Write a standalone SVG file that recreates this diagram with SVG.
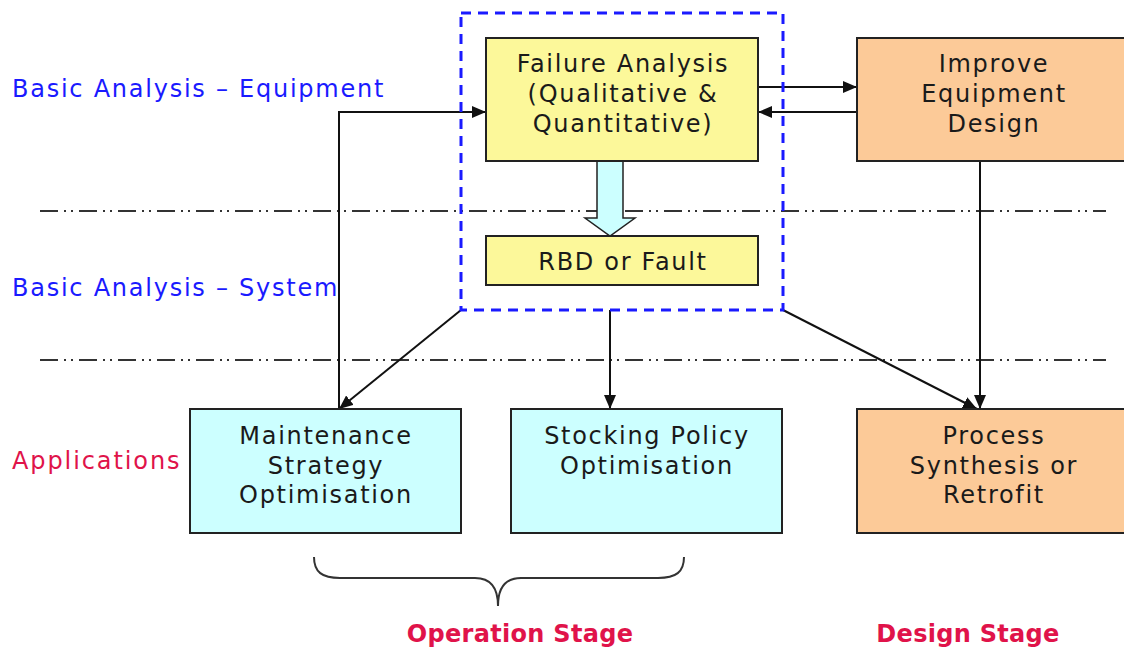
<svg xmlns="http://www.w3.org/2000/svg" width="1124" height="650" viewBox="0 0 1124 650">
  <defs>
    <marker id="arr" viewBox="0 0 14 12" refX="14" refY="6" markerWidth="14" markerHeight="12" markerUnits="userSpaceOnUse" orient="auto">
      <path d="M0,0 L14,6 L0,12 Z" fill="#111"/>
    </marker>
    <style>
      .box { stroke: #222; stroke-width: 2; }
      .yellow { fill: #fcf89a; }
      .peach { fill: #fcca98; }
      .cyan { fill: #ccffff; }
      .ntext { font-family: "DejaVu Sans", "Liberation Sans", sans-serif; font-size: 24px; letter-spacing: 1.7px; fill: #1a1a1a; text-anchor: middle; }
      .lane { font-family: "DejaVu Sans", "Liberation Sans", sans-serif; font-size: 24px; letter-spacing: 1.75px; fill: #1a1aff; }
      .red { font-family: "DejaVu Sans", "Liberation Sans", sans-serif; font-size: 24px; letter-spacing: 1.9px; fill: #e0134a; }
      .stage { font-weight: bold; text-anchor: middle; letter-spacing: 0.3px; }
      .sep { stroke: #333; stroke-width: 2; fill: none; stroke-dasharray: 18 6 2 5 2 6; }
      .conn { stroke: #111; stroke-width: 2; fill: none; marker-end: url(#arr); }
    </style>
  </defs>
  <rect width="1124" height="650" fill="#fff"/>

  <!-- lane separators -->
  <g id="separators">
    <line class="sep" x1="40" y1="211" x2="1106" y2="211"/>
    <line class="sep" x1="40" y1="360" x2="1106" y2="360"/>
  </g>

  <!-- lane labels -->
  <g id="lane-labels">
    <text class="lane" x="12" y="97">Basic Analysis – Equipment</text>
    <text class="lane" x="12" y="296">Basic Analysis – System</text>
    <text class="red" x="12" y="469">Applications</text>
  </g>

  <!-- connectors -->
  <g id="connectors">
    <polyline class="conn" points="339,409 339,112 486,112"/>
    <line class="conn" x1="758" y1="87" x2="857" y2="87"/>
    <line class="conn" x1="857" y1="112" x2="758" y2="112"/>
    <line class="conn" x1="461" y1="310" x2="339" y2="409"/>
    <line class="conn" x1="610" y1="310" x2="610" y2="409"/>
    <line class="conn" x1="783" y1="310" x2="977" y2="409"/>
    <line class="conn" x1="980" y1="161" x2="980" y2="409"/>
    <!-- block arrow from failure analysis to RBD -->
    <path d="M597,161 L597,218 L585,218 L610,236 L635,218 L623,218 L623,161 Z" fill="#ccffff" stroke="#222" stroke-width="1.5"/>
  </g>

  <!-- dashed grouping around the basic analysis boxes -->
  <rect id="analysis-group" x="461" y="13" width="322" height="297" fill="none" stroke="#1a1aff" stroke-width="3" stroke-dasharray="10 7"/>

  <g id="failure-analysis">
    <rect class="box yellow" x="486" y="38" width="272" height="123"/>
    <text class="ntext" x="623" y="72">Failure Analysis</text>
    <text class="ntext" x="623" y="102">(Qualitative &amp;</text>
    <text class="ntext" x="623" y="132">Quantitative)</text>
  </g>

  <g id="rbd">
    <rect class="box yellow" x="486" y="236" width="272" height="49"/>
    <text class="ntext" x="623" y="270">RBD or Fault</text>
  </g>

  <g id="improve-design">
    <rect class="box peach" x="857" y="38" width="275" height="123"/>
    <text class="ntext" x="994" y="72">Improve</text>
    <text class="ntext" x="994" y="102">Equipment</text>
    <text class="ntext" x="994" y="132">Design</text>
  </g>

  <g id="maintenance">
    <rect class="box cyan" x="190" y="409" width="271" height="124"/>
    <text class="ntext" x="326" y="444">Maintenance</text>
    <text class="ntext" x="326" y="474">Strategy</text>
    <text class="ntext" x="326" y="503">Optimisation</text>
  </g>

  <g id="stocking">
    <rect class="box cyan" x="511" y="409" width="271" height="124"/>
    <text class="ntext" x="647" y="444">Stocking Policy</text>
    <text class="ntext" x="647" y="474">Optimisation</text>
  </g>

  <g id="process-synthesis">
    <rect class="box peach" x="857" y="409" width="275" height="124"/>
    <text class="ntext" x="994" y="444">Process</text>
    <text class="ntext" x="994" y="474">Synthesis or</text>
    <text class="ntext" x="994" y="503">Retrofit</text>
  </g>

  <!-- brace under the operation-stage applications -->
  <path id="brace" d="M314,557 C314,572 322,578 340,578 L475,578 C492,578 498,590 498,606 C498,590 504,578 521,578 L658,578 C676,578 684,572 684,557" fill="none" stroke="#333" stroke-width="2"/>

  <g id="stage-labels">
    <text class="red stage" x="520" y="642">Operation Stage</text>
    <text class="red stage" x="968" y="642">Design Stage</text>
  </g>
</svg>
